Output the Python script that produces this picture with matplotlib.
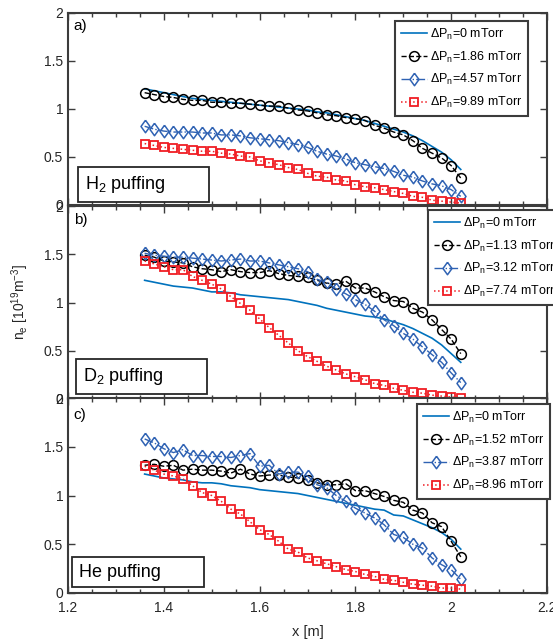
import numpy as np
import matplotlib as mpl
mpl.use('Agg')
import matplotlib.pyplot as plt
from matplotlib.patches import Rectangle
from matplotlib.ticker import MultipleLocator

# -----------------------------------------------------------
x = np.arange(34)*0.02 + 1.36

# a) H2 puffing
a_p0 = [1.21,1.19,1.17,1.15,1.13,1.11,1.10,1.09,1.08,1.07,1.06,1.05,1.04,1.03,1.02,1.01,1.00,
        0.99,0.97,0.96,0.94,0.92,0.90,0.88,0.85,0.82,0.79,0.76,0.72,0.67,0.61,0.55,0.47,0.37]
a_p1 = [1.17,1.15,1.13,1.12,1.10,1.09,1.09,1.07,1.07,1.06,1.06,1.05,1.04,1.03,1.03,1.01,0.99,
        0.98,0.96,0.94,0.93,0.91,0.90,0.88,0.83,0.80,0.76,0.73,0.67,0.59,0.54,0.49,0.41,0.28]
a_p2 = [0.82,0.79,0.77,0.76,0.76,0.76,0.75,0.75,0.73,0.73,0.72,0.70,0.69,0.68,0.67,0.65,0.63,
        0.60,0.56,0.53,0.51,0.48,0.44,0.42,0.40,0.38,0.35,0.31,0.29,0.25,0.22,0.20,0.16,0.09]
a_p3 = [0.64,0.62,0.60,0.59,0.58,0.57,0.56,0.56,0.54,0.53,0.51,0.50,0.46,0.44,0.42,0.39,0.37,
        0.33,0.30,0.29,0.26,0.25,0.21,0.19,0.18,0.16,0.14,0.12,0.09,0.08,0.05,0.04,0.03,0.02]

# b) D2 puffing
b_p0 = [1.23,1.21,1.19,1.17,1.16,1.15,1.13,1.11,1.11,1.10,1.08,1.07,1.06,1.05,1.04,1.03,1.01,
        0.99,0.97,0.94,0.92,0.90,0.88,0.86,0.85,0.83,0.80,0.77,0.73,0.68,0.63,0.56,0.47,0.38]
b_p1 = [1.49,1.47,1.43,1.42,1.41,1.37,1.35,1.34,1.32,1.34,1.32,1.31,1.31,1.33,1.30,1.28,1.27,
        1.26,1.23,1.20,1.19,1.22,1.15,1.15,1.11,1.06,1.02,1.01,0.94,0.90,0.82,0.72,0.62,0.47]
b_p2 = [1.51,1.49,1.48,1.47,1.47,1.46,1.45,1.44,1.43,1.44,1.45,1.43,1.43,1.41,1.39,1.37,1.35,
        1.32,1.24,1.21,1.14,1.09,1.03,0.98,0.91,0.82,0.76,0.68,0.62,0.54,0.46,0.38,0.27,0.17]
b_p3 = [1.43,1.40,1.37,1.34,1.34,1.27,1.23,1.19,1.14,1.06,0.99,0.92,0.83,0.74,0.66,0.58,0.50,
        0.44,0.39,0.34,0.30,0.26,0.23,0.20,0.16,0.14,0.11,0.09,0.07,0.06,0.04,0.03,0.02,0.01]

# c) He puffing
c_p0 = [1.22,1.20,1.18,1.17,1.16,1.14,1.13,1.13,1.12,1.10,1.09,1.08,1.06,1.05,1.04,1.03,1.02,
        1.00,0.98,0.96,0.94,0.92,0.90,0.88,0.86,0.85,0.80,0.79,0.75,0.71,0.67,0.62,0.55,0.45]
c_p1 = [1.31,1.32,1.30,1.31,1.26,1.27,1.26,1.26,1.25,1.23,1.27,1.22,1.20,1.21,1.21,1.19,1.18,
        1.16,1.13,1.11,1.11,1.12,1.05,1.05,1.02,0.99,0.95,0.93,0.85,0.82,0.72,0.68,0.53,0.37]
c_p2 = [1.58,1.54,1.48,1.44,1.47,1.41,1.41,1.40,1.40,1.39,1.41,1.43,1.30,1.31,1.22,1.24,1.24,
        1.20,1.11,1.08,1.00,0.94,0.87,0.82,0.77,0.70,0.60,0.57,0.50,0.46,0.36,0.29,0.24,0.14]
c_p3 = [1.30,1.26,1.22,1.20,1.17,1.10,1.03,1.00,0.94,0.86,0.81,0.73,0.65,0.60,0.53,0.45,0.42,
        0.36,0.33,0.30,0.27,0.24,0.22,0.19,0.17,0.14,0.13,0.11,0.09,0.08,0.07,0.05,0.05,0.04]

panels = [('a)', 'H$_2$ puffing', [a_p0,a_p1,a_p2,a_p3], ['0','1.86','4.57','9.89']),
          ('b)', 'D$_2$ puffing', [b_p0,b_p1,b_p2,b_p3], ['0','1.13','3.12','7.74']),
          ('c)', 'He puffing',    [c_p0,c_p1,c_p2,c_p3], ['0','1.52','3.87','8.96'])]
# -----------------------------------------------------------

W, H, dpi = 553, 641, 100
ink = '#262626'
mpl.rc('font', family=['Liberation Sans', 'DejaVu Sans'], size=10)
mpl.rc('mathtext', fontset='custom', rm='Liberation Sans', it='Liberation Sans', default='regular')
mpl.rc('axes', edgecolor='#3c3c3c', linewidth=1.5)
mpl.rc('xtick', direction='in', color='#3c3c3c', labelcolor=ink, top=True, labelsize=10)
mpl.rc('ytick', direction='in', color='#3c3c3c', labelcolor=ink, right=True, labelsize=10)
mpl.rc('xtick.major', size=5, width=1.0, pad=6)
mpl.rc('xtick.minor', size=3, width=1.0, visible=True)
mpl.rc('ytick.major', size=5, width=1.0)

blue = '#0072BD'
dblue = '#2f62b3'
red = '#f01e24'
diamond = [(0,1),(0.72,0),(0,-1),(-0.72,0),(0,1)]
styles = [dict(color=blue, ls='-', lw=1.2, marker=None),
          dict(color='k', ls='--', lw=1.0, marker='o', ms=7, mfc='none', mew=1.1),
          dict(color=dblue, ls='-.', lw=1.0, marker=diamond, ms=9, mfc='none', mew=1.1),
          dict(color=red, ls=':', lw=1.1, marker='s', ms=5.5, mfc='none', mew=1.3)]

# pixel boxes (left, top, right, bottom) of the three panels
boxes = [(68,13,547,205), (68,206,547,399), (68,398,547,593)]
leg_pos = [('upper right',(0.960,0.958)), ('upper left',(0.752,0.979)), ('upper left',(0.729,0.969))]
tbox = [(0.021,0.016,0.273,0.182), (0.016,0.026,0.274,0.181), (0.009,0.029,0.275,0.157)]
lab_y = [0.93, 0.927, 0.913]

fig = plt.figure(figsize=(W/dpi, H/dpi), dpi=dpi)

for i,(tag,gas,series,dp) in enumerate(panels):
    l,t,r,b = boxes[i]
    ax = fig.add_axes([l/W, 1-b/H, (r-l)/W, (b-t)/H])
    for y,st,p in zip(series, styles, dp):
        ax.plot(x, y, label=r'$\Delta$P$_{n}$='+p+' mTorr', **st)
    ax.set_xlim(1.2, 2.2)
    ax.set_ylim(0, 2)
    ax.xaxis.set_major_locator(MultipleLocator(0.2))
    ax.xaxis.set_minor_locator(MultipleLocator(0.05))
    ax.yaxis.set_major_locator(MultipleLocator(0.5))
    ax.yaxis.set_major_formatter(mpl.ticker.FormatStrFormatter('%g'))
    ax.xaxis.set_major_formatter(mpl.ticker.FormatStrFormatter('%g'))
    if i < 2:
        ax.set_xticklabels([])
    else:
        ax.set_xlabel('x [m]', fontsize=10.5, color=ink, labelpad=7)
    ax.text(0.012, lab_y[i], tag, transform=ax.transAxes, va='center', ha='left',
            fontsize=11, color='k')
    bx,by,bw,bh = tbox[i]
    ax.add_patch(Rectangle((bx,by), bw, bh, transform=ax.transAxes, fc='white',
                           ec='#262626', lw=1.3, zorder=5))
    ax.text(bx+0.015, by+bh/2, gas, transform=ax.transAxes, va='center', ha='left',
            fontsize=13, color='k', zorder=6)
    loc,anchor = leg_pos[i]
    leg = ax.legend(loc=loc, bbox_to_anchor=anchor, borderaxespad=0, fontsize=9,
                    fancybox=False, framealpha=1, edgecolor='#3c3c3c', handlelength=2.1,
                    handletextpad=0.25, labelspacing=0.62, borderpad=0.45)
    leg.get_frame().set_linewidth(1.5)
    leg.set_zorder(10)

fig.text(20/W, 1-302/H, r'n$_e$ [10$^{19}$m$^{-3}$]', rotation=90, ha='center', va='center',
         fontsize=10, color=ink)

plt.savefig('out.png', dpi=dpi)
